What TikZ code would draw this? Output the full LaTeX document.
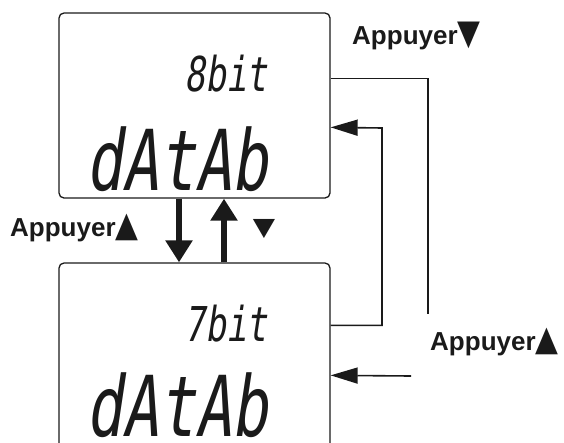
\documentclass[tikz,border=0pt]{standalone}
\usepackage{fontspec}
\setmainfont{Liberation Sans}
\newfontfamily\lcdfont[FakeSlant=0.15,FakeStretch=0.72]{DejaVu Sans Mono}
\newfontfamily\symnarrow[FakeStretch=0.85]{DejaVu Sans}
\newfontfamily\symwide[FakeStretch=1.16]{DejaVu Sans}
\usetikzlibrary{calc,arrows.meta,positioning}
\definecolor{inkc}{HTML}{1A1A1A}
\newcommand{\upkey}{{\fontsize{35}{35}\symnarrow ▲}}
\newcommand{\downkey}{{\fontsize{35}{35}\symnarrow ▼}}
\tikzset{
  ln/.style={line width=1.6pt,draw=inkc},
  ar/.style={ln,-{Triangle[length=27pt,width=16pt]}},
  bigar/.style={line width=6pt,draw=inkc,-{Triangle[length=22pt,width=26pt]}},
  box/.style={draw=inkc,line width=1.3pt,rounded corners=5pt,minimum width=271pt,minimum height=185pt,inner sep=0pt},
  lbl/.style={font=\fontsize{26}{30}\selectfont\bfseries,inner sep=0pt,text=inkc},
  lcdsmall/.style={font=\fontsize{48}{52}\selectfont\lcdfont,inner sep=0pt,text=inkc},
  lcdbig/.style={font=\fontsize{84}{90}\selectfont\lcdfont,inner sep=0pt,text depth=0pt,text=inkc}
}

\begin{document}
\begin{tikzpicture}[x=1pt,y=-1pt]
\useasboundingbox (0,0) rectangle (564,442);
\clip (0,0) rectangle (564,442);
% the two displays
\node[box] (top) at (194.5,105.5) {};
\node[box] (bot) at (194.5,355.5) {};
\node[lcdsmall,anchor=base east] (topbits) at (268,91) {8bit};
\node[lcdbig,anchor=base west] (topdata) at (86,190) {dAtAb};
\node[lcdsmall,anchor=base east] (botbits) at (268,341) {7bit};
\node[lcdbig,anchor=base west] (botdata) at (86,436) {dAtAb};
% arrows between the displays
\draw[bigar] ([xshift=-15.5pt]top.south) -- ([xshift=-15.5pt]bot.north);
\draw[bigar] ([xshift=29.5pt]bot.north) -- ([xshift=29.5pt]top.south);
\node[lbl,anchor=base west] (upleft) at (10,236) {Appuyer\upkey};
\node[inner sep=0pt,text=inkc,font=\fontsize{25}{25}\symwide] (downmid) at (264,229) {▼};
% connectors on the right
\coordinate (dnend) at (428,314);
\coordinate (upstart) at (411,376);
\draw[ln] ($(top.north east)+(0,66)$) -| (dnend);
\draw[ar] ($(bot.north east)+(0,63)$) -| (382,128) -- ($(top.north east)+(0,115)$);
\draw[ar] (upstart) -- ($(bot.north east)+(0,113)$);
\node[lbl,anchor=base west] (downright) at (352,44) {Appuyer\downkey};
\node[lbl,anchor=base west] (upright) at (430,350) {Appuyer\upkey};
\end{tikzpicture}
\end{document}
